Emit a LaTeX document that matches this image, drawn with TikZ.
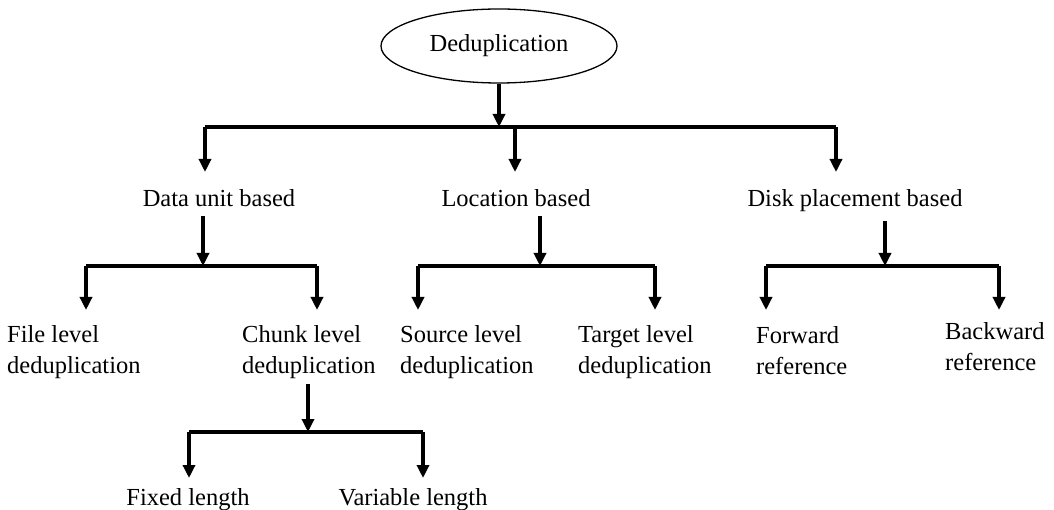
\documentclass[tikz,border=0pt]{standalone}
\usepackage{fontspec}
\setmainfont{Liberation Serif}
\usetikzlibrary{arrows.meta,shapes.geometric}
\begin{document}
\begin{tikzpicture}[x=1pt,y=-1pt,
  link/.style={line width=3.6pt},
  arr/.style={line width=3.6pt,-{Triangle[width=12pt,length=13pt]}},
  lbl/.style={inner sep=0pt,font=\fontsize{24.5}{31}\selectfont},
  leaf/.style={lbl,anchor=base west,align=left}]
\useasboundingbox (0,0) rectangle (1054,510);

% root
\node[ellipse,draw,line width=1.3pt,minimum width=236pt,minimum height=74pt,
      font=\fontsize{24.5}{31}\selectfont] (root) at (499,46) {Deduplication};

% first level
\node[lbl,anchor=base] (unit) at (219,207) {Data unit based};
\node[lbl,anchor=base] (loc)  at (516,207) {Location based};
\node[lbl,anchor=base] (disk) at (855,207) {Disk placement based};

% second level (anchored on the baseline of the last line)
\node[leaf] (file)  at (7,373)   {File level\\deduplication};
\node[leaf] (chunk) at (242,373) {Chunk level\\deduplication};
\node[leaf] (src)   at (400,373) {Source level\\deduplication};
\node[leaf] (tgt)   at (578,373) {Target level\\deduplication};
\node[leaf] (fwd)   at (756,374) {Forward\\reference};
\node[leaf] (bwd)   at (945,370) {Backward\\reference};

% third level
\node[lbl,anchor=base] (fixed) at (188,505) {Fixed length};
\node[lbl,anchor=base] (var)   at (413,505) {Variable length};

% bar under the root
\coordinate (r0) at (499,127);
\coordinate (rL) at (205,127);
\coordinate (rM) at (515,127);
\coordinate (rR) at (836,127);
\draw[arr] (root.south) -- (r0);
\draw[link] (rL) -- (rR);
\draw[arr] (rL) -- (rL |- 0,172) coordinate (tL);
\draw[arr] (rM) -- (rM |- 0,172) coordinate (tM);
\draw[arr] (rR) -- (rR |- 0,172) coordinate (tR);

% bar under "Data unit based"
\coordinate (u0) at (203,266);
\coordinate (uL) at (86,266);
\coordinate (uR) at (317,266);
\draw[arr] (u0 |- unit.south) ++(0,9) -- (u0);
\draw[link] (uL) -- (uR);
\draw[arr] (uL) -- (uL |- 0,310);
\draw[arr] (uR) -- (uR |- 0,310);

% bar under "Location based"
\coordinate (l0) at (540,266);
\coordinate (lL) at (418,266);
\coordinate (lR) at (655,266);
\draw[arr] (l0 |- loc.south) ++(0,9) -- (l0);
\draw[link] (lL) -- (lR);
\draw[arr] (lL) -- (lL |- 0,310);
\draw[arr] (lR) -- (lR |- 0,310);

% bar under "Disk placement based"
\coordinate (d0) at (885,266);
\coordinate (dL) at (766,266);
\coordinate (dR) at (999,266);
\draw[arr] (d0 |- disk.south) ++(0,9) -- (d0);
\draw[link] (dL) -- (dR);
\draw[arr] (dL) -- (dL |- 0,310);
\draw[arr] (dR) -- (dR |- 0,310);

% bar under "Chunk level deduplication"
\coordinate (c0) at (308,432);
\coordinate (cL) at (189,432);
\coordinate (cR) at (423,432);
\draw[arr] (c0 |- chunk.south) ++(0,6) -- (c0);
\draw[link] (cL) -- (cR);
\draw[arr] (cL) -- (cL |- 0,478);
\draw[arr] (cR) -- (cR |- 0,478);
\end{tikzpicture}
\end{document}
